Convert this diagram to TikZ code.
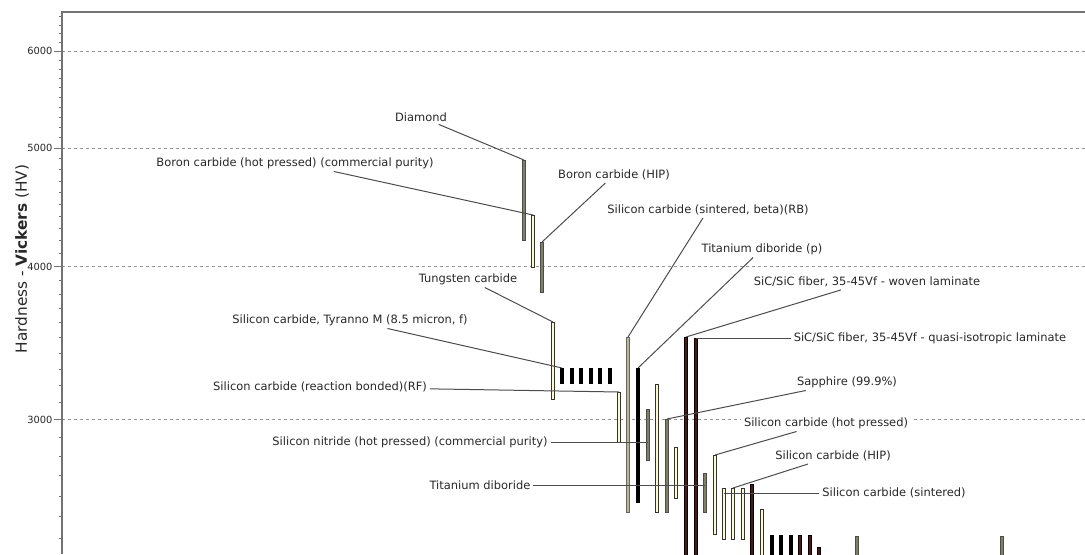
\documentclass[tikz,border=0pt]{standalone}
\usepackage{fontspec}
\setmainfont{DejaVu Sans}
\usetikzlibrary{positioning}
\definecolor{axisgray}{RGB}{115,115,115}
\definecolor{gridgray}{RGB}{150,150,150}
\definecolor{labelink}{RGB}{40,40,40}
\definecolor{barcream}{RGB}{250,250,205}
\definecolor{barolive}{RGB}{128,128,98}
\definecolor{barsage}{RGB}{185,185,145}
\definecolor{barmaroon}{RGB}{80,22,22}
\newcommand{\hvy}[1]{4679.7-1225.1*log10(#1)}

\begin{document}
\begin{tikzpicture}[x=0.75pt,y=-0.75pt,
  lbl/.style={font=\fontsize{8.6}{10}\selectfont,text=labelink,fill=white,inner sep=2pt},
  ticklbl/.style={font=\fontsize{7.4}{9}\selectfont,text=labelink,anchor=east,inner sep=1pt},
  leader/.style={draw=black!70,line width=0.75pt},
  gridln/.style={draw=gridgray,line width=0.75pt,dash pattern=on 2.5pt off 2pt},
  axisln/.style={draw=axisgray,line width=1.1pt},
  tickln/.style={draw=axisgray,line width=0.75pt},
  crbar/.style={draw=black!80,fill=barcream,line width=0.6pt},
  olbar/.style={draw=black!70,fill=barolive,line width=0.6pt},
  sgbar/.style={draw=black!60,fill=barsage,line width=0.6pt},
  bkbar/.style={draw=black,fill=black,line width=0.6pt},
  mrbar/.style={draw=black,fill=barmaroon,line width=0.6pt}]
\useasboundingbox (0,0) rectangle (1085,554);
% log scale: minor ticks, then grid and labels
\foreach \h in {2400,2500,...,6400}{
  \pgfmathsetmacro\ty{\hvy{\h}}
  \draw[tickln] (59,\ty) -- (62,\ty);
}
\foreach \h in {3000,4000,5000,6000}{
  \pgfmathsetmacro\ty{\hvy{\h}}
  \draw[gridln] (62,\ty) -- (1085,\ty);
  \draw[tickln] (54,\ty) -- (62,\ty);
  \node[ticklbl] (tick\h) at (54,\ty) {\h};
}
\draw[axisln] (62,554) -- (62,12) -- (1085,12);
\node[rotate=90,font=\fontsize{11.5}{13}\selectfont,text=labelink] (ytitle) at (22,259)
  {Hardness - \textbf{Vickers} (HV)};

% bars: x/top/bottom/style
\foreach \x/\t/\b/\s in {524/160/240/olbar,533/215/267/crbar,542/242/292/olbar,
    553/322/399/crbar,619/392/442/crbar,628/337/512/sgbar,638/368/502/bkbar,
    648/409/460/olbar,657/384/512/crbar,667/419/512/olbar,676/447/498/crbar,
    686/337/557/mrbar,696/338/557/mrbar,705/473/512/olbar,715/455/534/crbar,
    724/488/539/crbar,733/488/539/crbar,743/488/539/crbar,752/484/557/mrbar,
    762/509/557/crbar,772/535/557/bkbar,781/535/557/bkbar,791/535/557/bkbar,
    800/535/557/mrbar,810/535/557/mrbar,819/547/557/mrbar,857/536/557/olbar,
    1002/536/557/olbar}
  \draw[\s] (\x-1.5,\t) rectangle (\x+1.5,\b);
\foreach \x in {562,572,581,591,600,610}
  \draw[bkbar] (\x-1.5,368) rectangle (\x+1.5,383);

% where the leaders meet the bars
\coordinate (diamond) at (524,160);
\coordinate (bchp) at (533,215);
\coordinate (bchip) at (542,242);
\coordinate (wc) at (553,322);
\coordinate (tyranno) at (562,368);
\coordinate (sicrf) at (619,392);
\coordinate (sicrb) at (628,337);
\coordinate (tibp) at (638,368);
\coordinate (sinhp) at (648,442);
\coordinate (sapph) at (667,419);
\coordinate (woven) at (686,337);
\coordinate (quasi) at (696,338);
\coordinate (tib) at (705,485);
\coordinate (sichp) at (715,455);
\coordinate (sicsint) at (724,493);
\coordinate (sichip) at (733,488);

\node[lbl] (t-diamond) at (421,117) {Diamond};
\node[lbl] (t-bchp) at (295,163) {Boron carbide (hot pressed) (commercial purity)};
\node[lbl] (t-bchip) at (614,175) {Boron carbide (HIP)};
\node[lbl] (t-wc) at (468,279) {Tungsten carbide};
\node[lbl] (t-tyranno) at (350,320) {Silicon carbide, Tyranno M (8.5 micron, f)};
\node[lbl] (t-sicrf) at (320,387) {Silicon carbide (reaction bonded)(RF)};
\node[lbl] (t-sicrb) at (708,210) {Silicon carbide (sintered, beta)(RB)};
\node[lbl] (t-tibp) at (762,249) {Titanium diboride (p)};
\node[lbl] (t-sinhp) at (410,442) {Silicon nitride (hot pressed) (commercial purity)};
\node[lbl] (t-sapph) at (847,382) {Sapphire (99.9\%)};
\node[lbl] (t-woven) at (867,282) {SiC/SiC fiber, 35-45Vf - woven laminate};
\node[lbl] (t-quasi) at (930,338) {SiC/SiC fiber, 35-45Vf - quasi-isotropic laminate};
\node[lbl] (t-tib) at (480,485) {Titanium diboride};
\node[lbl] (t-sichp) at (826,423) {Silicon carbide (hot pressed)};
\node[lbl] (t-sicsint) at (894,493) {Silicon carbide (sintered)};
\node[lbl] (t-sichip) at (833,456) {Silicon carbide (HIP)};

\foreach \m in {diamond,bchp,bchip,wc,tyranno,sicrf,sicrb,tibp,sinhp,sapph,
    woven,quasi,tib,sichp,sicsint,sichip}
  \draw[leader] (t-\m) -- (\m);
\end{tikzpicture}
\end{document}
